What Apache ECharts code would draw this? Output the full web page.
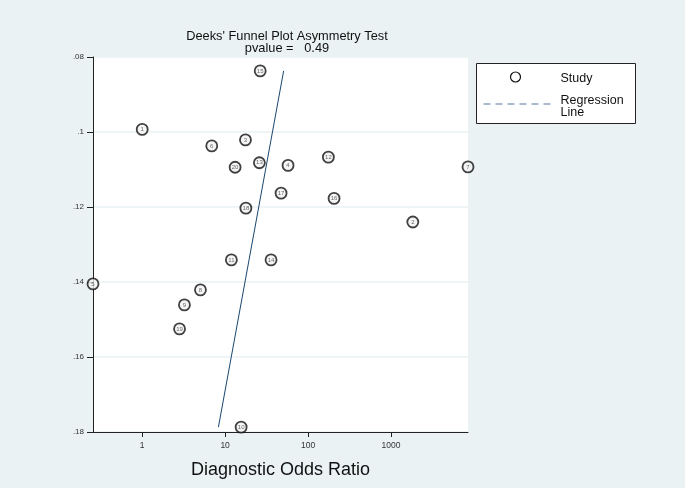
<!DOCTYPE html>
<html>
<head>
<meta charset="utf-8">
<script src="https://cdn.jsdelivr.net/npm/echarts@6/dist/echarts.min.js"></script>
<style>
html,body{margin:0;padding:0;background:#eaf2f3;}
#chart{width:685px;height:488px;}
</style>
</head>
<body>
<div id="chart"></div>
<script>
// Study identifiers
var studyIds = [1, 2, 3, 4, 5, 6, 7, 8, 9, 10, 11, 12, 13, 14, 15, 16, 17, 18, 19, 20];
// Diagnostic odds ratio per study
var studyDOR = [1.0, 1836, 17.6, 57.4, 0.255, 6.9, 8500, 5.04, 3.23, 15.6, 11.9, 176, 25.9, 35.8, 26.5, 206, 47.3, 17.8, 2.82, 13.2];
// 1/root(ESS) per study
var studyInvRootESS = [0.0993, 0.1240, 0.1021, 0.1089, 0.1405, 0.1037, 0.1093, 0.1421, 0.1461, 0.1787, 0.1341, 0.1067, 0.1082, 0.1341, 0.0837, 0.1177, 0.1163, 0.1203, 0.1525, 0.1094];
// Regression line end points
var regDOR = [50.8, 8.3];
var regInvRootESS = [0.0837, 0.1787];
// Axis ticks
var xTickValues = [1, 10, 100, 1000];
var xTickLabels = ['1', '10', '100', '1000'];
var yTickValues = [0.08, 0.10, 0.12, 0.14, 0.16, 0.18];
var yTickLabels = ['.08', '.1', '.12', '.14', '.16', '.18'];
var titleText = "Deeks' Funnel Plot Asymmetry Test";
var subText = 'pvalue =   0.49';
var xTitle = 'Diagnostic Odds Ratio';
var legendLabels = ['Study', 'Regression', 'Line'];

var FONT = 'Liberation Sans, Arial, sans-serif';
var lg = function (v) { return Math.log10(v); };
var scatterData = studyIds.map(function (id, i) {
  return [lg(studyDOR[i]), studyInvRootESS[i], id];
});
var regData = regDOR.map(function (d, i) { return [lg(d), regInvRootESS[i]]; });
var xMin = lg(Math.min.apply(null, studyDOR));
var xMax = lg(Math.max.apply(null, studyDOR));
var xTickLog = xTickValues.map(lg);

var chart = echarts.init(document.getElementById('chart'));
chart.setOption({
  backgroundColor: '#eaf2f3',
  animation: false,
  title: [{
    text: titleText,
    left: 282, top: 25, textAlign: 'center',
    textStyle: {fontFamily: FONT, fontSize: 12.8, fontWeight: 'normal', color: '#111'}
  }, {
    text: subText,
    left: 282, top: 37, textAlign: 'center',
    textStyle: {fontFamily: FONT, fontSize: 12.8, fontWeight: 'normal', color: '#111'}
  }],
  grid: {left: 93, right: 217, top: 57, bottom: 56, show: true, backgroundColor: '#ffffff', borderWidth: 0, containLabel: false},
  xAxis: {
    type: 'value', min: xMin, max: xMax,
    name: xTitle, nameLocation: 'middle', nameGap: 29,
    nameTextStyle: {fontFamily: FONT, fontSize: 18, color: '#111'},
    axisLine: {show: true, onZero: false, lineStyle: {color: '#222', width: 1}},
    axisTick: {show: true, length: 5, customValues: xTickLog, lineStyle: {color: '#222'}},
    axisLabel: {
      customValues: xTickLog, margin: 9, fontFamily: FONT, fontSize: 8.5, color: '#333',
      formatter: function (v) {
        var idx = xTickLog.findIndex(function (t) { return Math.abs(t - v) < 1e-6; });
        return idx >= 0 ? xTickLabels[idx] : '';
      }
    },
    splitLine: {show: false}
  },
  yAxis: {
    type: 'value', inverse: true, min: 0.08, max: 0.18, interval: 0.02,
    axisLine: {show: true, onZero: false, lineStyle: {color: '#222', width: 1}},
    axisTick: {show: true, length: 6, lineStyle: {color: '#222'}},
    axisLabel: {
      margin: 9, fontFamily: FONT, fontSize: 8, color: '#333',
      formatter: function (v) {
        var idx = yTickValues.findIndex(function (t) { return Math.abs(t - v) < 1e-6; });
        return idx >= 0 ? yTickLabels[idx] : '';
      }
    },
    splitLine: {show: true, lineStyle: {color: '#eaf2f3', width: 1.5}}
  },
  series: [{
    name: 'Study', type: 'scatter', data: scatterData,
    symbol: 'circle', symbolSize: 11,
    itemStyle: {color: '#f2f2f2', borderColor: '#111', borderWidth: 1.8},
    label: {show: true, position: 'inside', formatter: function (p) { return p.data[2]; },
      fontFamily: FONT, fontSize: 6, color: '#444'},
    z: 3
  }, {
    name: 'Regression Line', type: 'line', data: regData,
    symbol: 'none', lineStyle: {color: '#1a476f', width: 1},
    z: 2
  }],
  graphic: [{
    type: 'group', left: 476, top: 63,
    children: [
      {type: 'rect', shape: {x: 0, y: 0, width: 159, height: 60}, style: {fill: '#fff', stroke: '#222', lineWidth: 1}},
      {type: 'circle', shape: {cx: 39, cy: 13.5, r: 5}, style: {fill: '#fff', stroke: '#111', lineWidth: 1.2}},
      {type: 'text', x: 84, y: 15, style: {text: legendLabels[0], fontFamily: FONT, fontSize: 12.5, fill: '#111', verticalAlign: 'middle'}},
      {type: 'line', shape: {x1: 7, y1: 40.5, x2: 74, y2: 40.5}, style: {stroke: '#8ea5bd', lineWidth: 1.5, lineDash: [7, 5]}},
      {type: 'text', x: 84, y: 37.5, style: {text: legendLabels[1], fontFamily: FONT, fontSize: 12.5, fill: '#111', verticalAlign: 'middle'}},
      {type: 'text', x: 84, y: 49.5, style: {text: legendLabels[2], fontFamily: FONT, fontSize: 12.5, fill: '#111', verticalAlign: 'middle'}}
    ]
  }]
});
</script>
</body>
</html>
